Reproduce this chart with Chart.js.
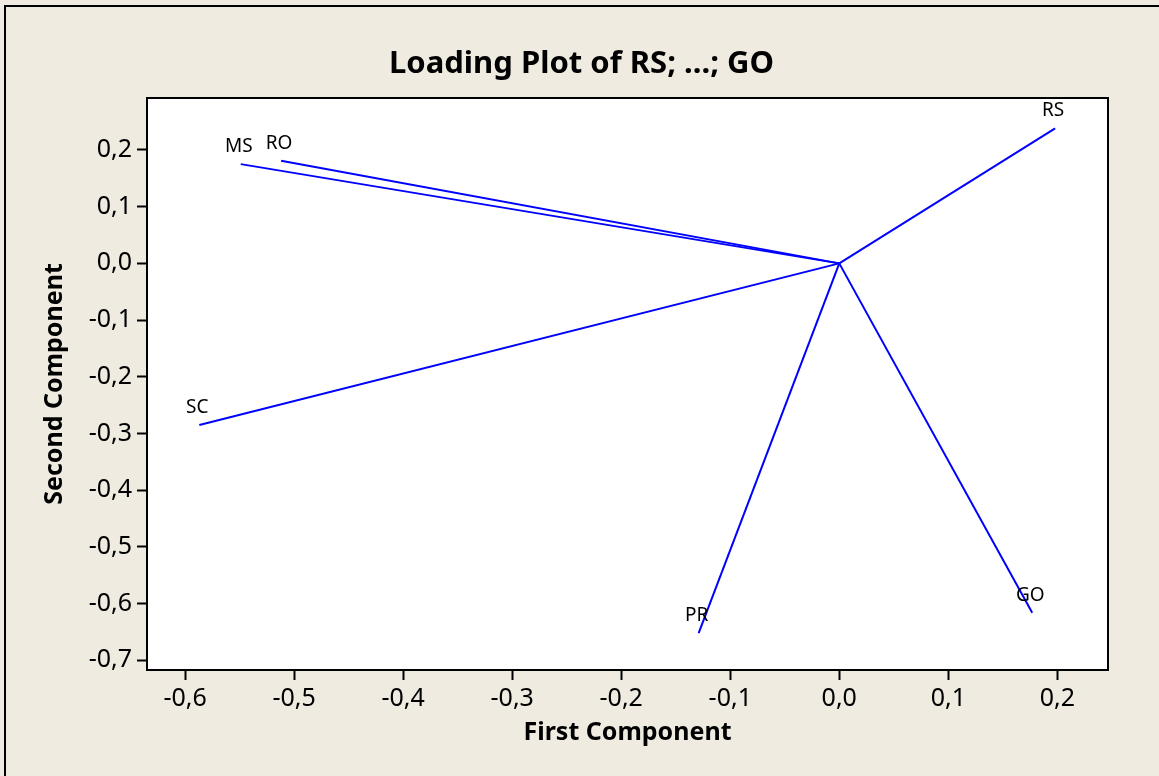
<!DOCTYPE html>
<html>
<head>
<meta charset="utf-8">
<script src="https://cdn.jsdelivr.net/npm/chart.js@4.4.1/dist/chart.umd.min.js"></script>
<style>
  html, body { margin: 0; padding: 0; background: #efebe1; }
  canvas { display: block; }
</style>
</head>
<body>
<canvas id="loadingChart" width="1159" height="776"></canvas>
<script>
// Data
const variables = ['RS', 'MS', 'RO', 'SC', 'PR', 'GO'];
const firstComponent = [0.198, -0.549, -0.512, -0.587, -0.129, 0.177];
const secondComponent = [0.238, 0.175, 0.181, -0.285, -0.652, -0.616];
const xTickValues = [-0.6, -0.5, -0.4, -0.3, -0.2, -0.1, 0.0, 0.1, 0.2];
const yTickValues = [-0.7, -0.6, -0.5, -0.4, -0.3, -0.2, -0.1, 0.0, 0.1, 0.2];
const chartTitle = 'Loading Plot of RS; ...; GO';

const BG = '#efebe1';
const LINE = '#0000ff';

function fmt(v) {
    return v.toFixed(1).replace('.', ',');
}

// one line from origin to each loading
const datasets = variables.map((name, i) => ({
    label: name,
    data: [{ x: 0, y: 0 }, { x: firstComponent[i], y: secondComponent[i] }],
    showLine: true,
    borderColor: LINE,
    borderWidth: 2,
    pointRadius: 0,
    fill: false
}));

// background, title, plot frame and variable labels
const decor = {
    id: 'decor',
    beforeDraw(chart) {
        const { ctx, chartArea: a } = chart;
        ctx.save();
        ctx.fillStyle = BG;
        ctx.fillRect(0, 0, chart.width, chart.height);
        ctx.strokeStyle = '#000';
        ctx.lineWidth = 2;
        ctx.beginPath();
        ctx.moveTo(5, chart.height);
        ctx.lineTo(5, 6);
        ctx.lineTo(chart.width, 6);
        ctx.stroke();
        ctx.fillStyle = '#fff';
        ctx.fillRect(a.left, a.top, a.right - a.left, a.bottom - a.top);
        // title, centred on the whole figure
        ctx.fillStyle = '#000';
        ctx.font = 'bold 31px "Noto Sans"';
        ctx.textAlign = 'center';
        ctx.textBaseline = 'alphabetic';
        ctx.fillText(chartTitle, chart.width / 2 + 2, 73);
        ctx.restore();
    },
    afterDraw(chart) {
        const { ctx, chartArea: a, scales } = chart;
        ctx.save();
        ctx.strokeStyle = '#000';
        ctx.lineWidth = 2;
        ctx.strokeRect(a.left, a.top, a.right - a.left, a.bottom - a.top);
        ctx.fillStyle = '#000';
        ctx.font = '19px "Noto Sans"';
        ctx.textAlign = 'center';
        ctx.textBaseline = 'alphabetic';
        variables.forEach((name, i) => {
            const px = scales.x.getPixelForValue(firstComponent[i]);
            const py = scales.y.getPixelForValue(secondComponent[i]);
            ctx.fillText(name, px - 2, py - 12);
        });
        ctx.restore();
    }
};

new Chart(document.getElementById('loadingChart'), {
    type: 'scatter',
    data: { datasets },
    options: {
        responsive: false,
        animation: false,
        layout: { padding: { left: 0, right: 51, top: 98, bottom: 0 } },
        plugins: {
            legend: { display: false },
            tooltip: { enabled: false },
            title: { display: false }
        },
        scales: {
            x: {
                type: 'linear',
                min: -0.635,
                max: 0.2465,
                afterBuildTicks: s => { s.ticks = xTickValues.map(v => ({ value: v })); },
                afterFit: s => { s.height = 106; },
                ticks: {
                    color: '#000',
                    padding: 4,
                    maxRotation: 0,
                    font: { family: 'Noto Sans', size: 25, lineHeight: 1.2 },
                    callback: v => fmt(v)
                },
                grid: { drawOnChartArea: false, drawTicks: true, tickLength: 10, tickWidth: 2, tickColor: '#000' },
                border: { display: true, color: '#000', width: 2 },
                title: {
                    display: true,
                    text: 'First Component',
                    color: '#000',
                    font: { family: 'Noto Sans', size: 25, weight: 'bold', lineHeight: 1.2 },
                    padding: { top: 0, bottom: 28 }
                }
            },
            y: {
                type: 'linear',
                min: -0.717,
                max: 0.2916,
                afterBuildTicks: s => { s.ticks = yTickValues.map(v => ({ value: v })); },
                afterFit: s => { s.width = 147; },
                ticks: {
                    color: '#000',
                    padding: 5,
                    font: { family: 'Noto Sans', size: 25, lineHeight: 1.2 },
                    callback: v => fmt(v)
                },
                grid: { drawOnChartArea: false, drawTicks: true, tickLength: 10, tickWidth: 2, tickColor: '#000' },
                border: { display: true, color: '#000', width: 2 },
                title: {
                    display: true,
                    text: 'Second Component',
                    color: '#000',
                    font: { family: 'Noto Sans', size: 25, weight: 'bold', lineHeight: 1.2 },
                    padding: { top: 40, bottom: 0 }
                }
            }
        }
    },
    plugins: [decor]
});
</script>
</body>
</html>
